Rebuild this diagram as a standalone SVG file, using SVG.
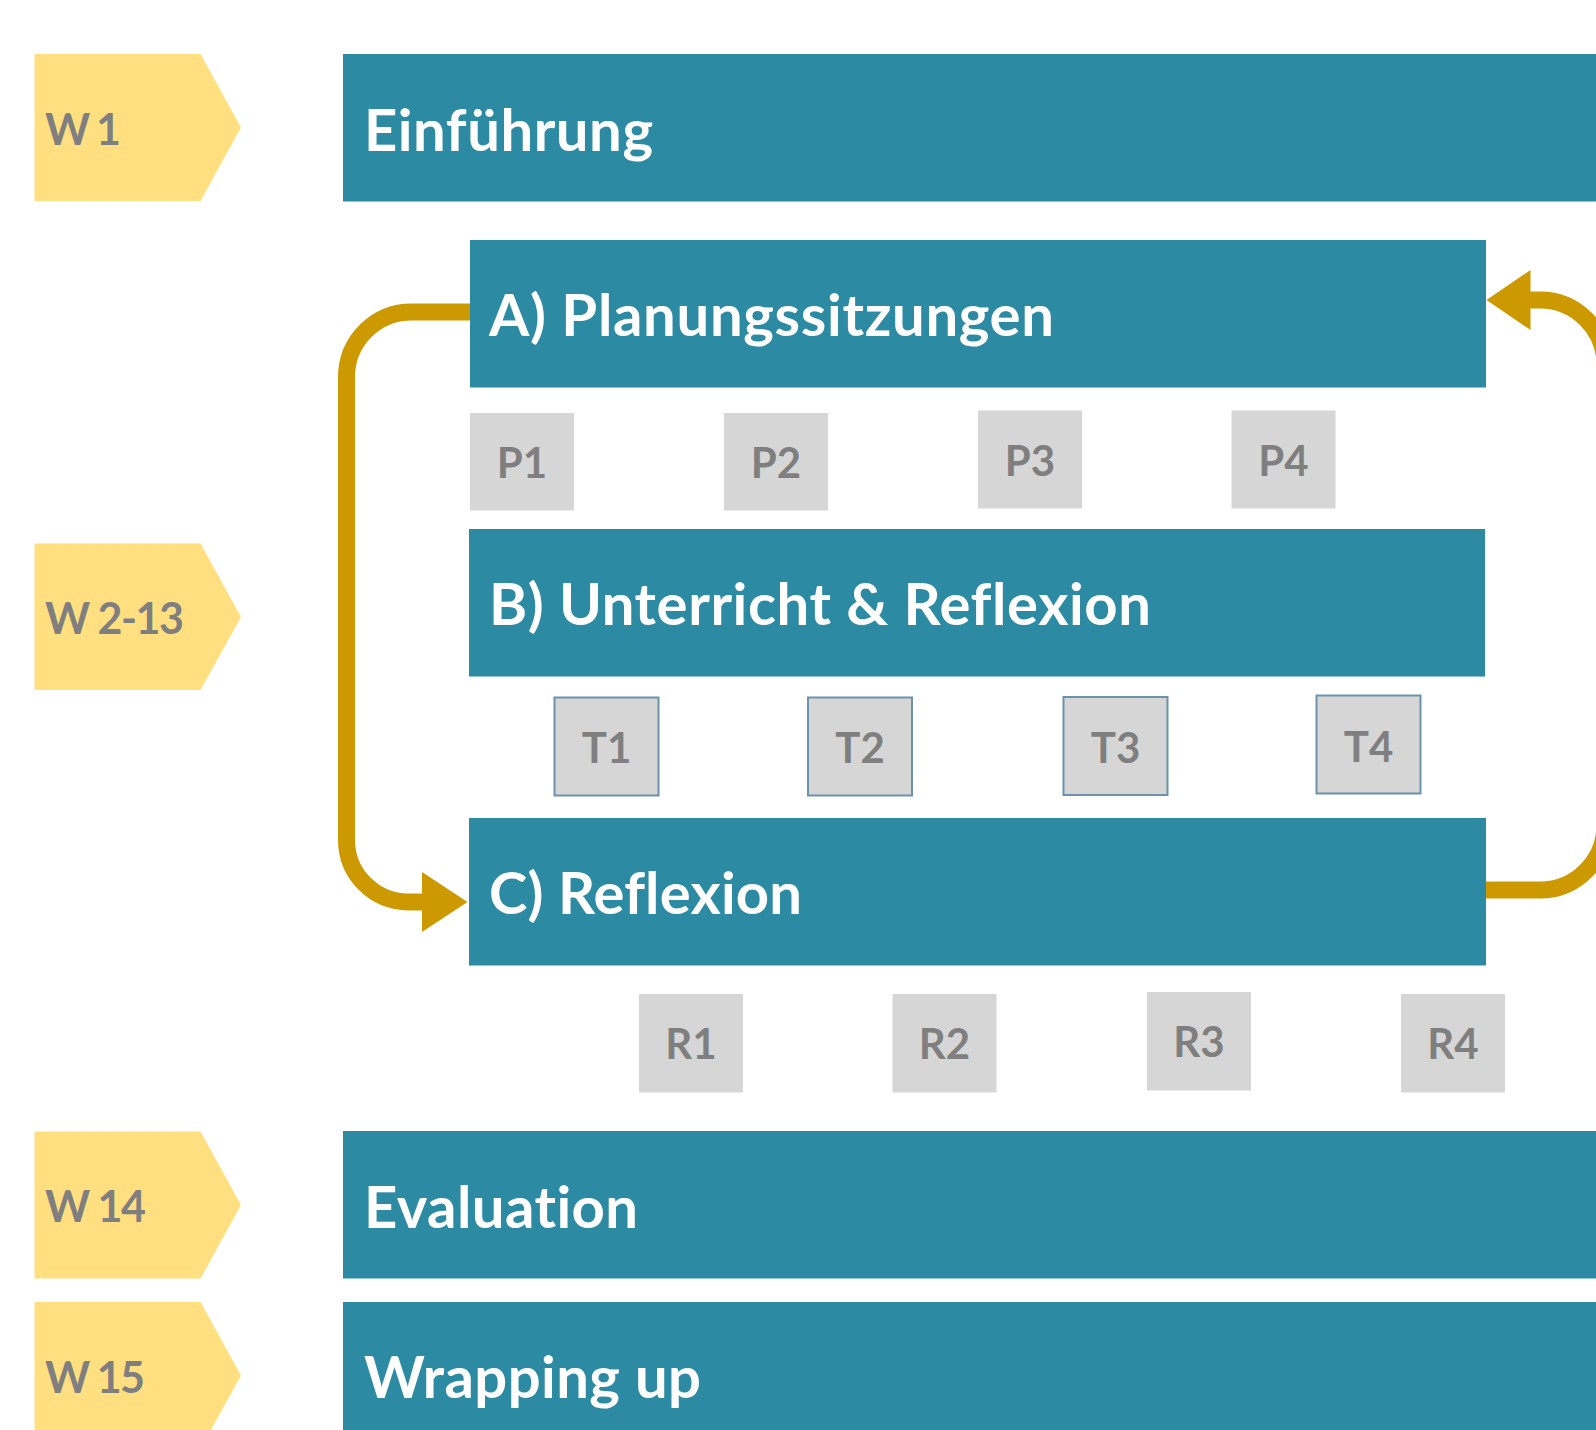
<svg xmlns="http://www.w3.org/2000/svg" width="1596" height="1430" viewBox="0 0 1596 1430">
<style>
text{font-variant-ligatures:none}
.bar{fill:#2D8AA3}
.wk{fill:#FFDF7F}
.box{fill:#D6D6D6}
.tbox{fill:#D6D6D6;stroke:#6A93AB;stroke-width:2}
.big{font-family:Lato,"Open Sans","Liberation Sans",sans-serif;font-weight:700;font-size:58px;fill:#FFFFFF}
.wl{font-family:Lato,"Open Sans","Liberation Sans",sans-serif;font-weight:700;font-size:43px;fill:#7F7F7F}
.sl{font-family:Lato,"Open Sans","Liberation Sans",sans-serif;font-weight:700;font-size:42px;fill:#7F7F7F;text-anchor:middle}
.con{fill:none;stroke:#CC9900;stroke-width:17}
.head{fill:#CC9900}
</style>
<rect width="1596" height="1430" fill="#FFFFFF"/>

<g id="week-1"><polygon class="wk" points="34.5,54 200.5,54 241,127.5 200.5,201 34.5,201"/><text class="wl" x="45" y="144.5" textLength="76">W 1</text></g>
<g id="week-2-13"><polygon class="wk" points="34.5,543.6 200.5,543.6 241,617 200.5,690 34.5,690"/><text class="wl" x="45" y="634" textLength="139">W 2-13</text></g>
<g id="week-14"><polygon class="wk" points="34.5,1131.5 200.5,1131.5 241,1205 200.5,1278.5 34.5,1278.5"/><text class="wl" x="45" y="1222" textLength="101">W 14</text></g>
<g id="week-15"><polygon class="wk" points="34.5,1302 200.5,1302 241,1375.5 200.5,1449 34.5,1449"/><text class="wl" x="45" y="1392.5" textLength="100">W 15</text></g>

<g id="einfuehrung"><rect class="bar" x="343" y="54" width="1253" height="147.5"/><text class="big" x="364" y="150.5" textLength="289">Einführung</text></g>
<g id="planungssitzungen"><rect class="bar" x="470" y="240" width="1016" height="147.5"/><text class="big" x="489" y="335.7" textLength="565">A) Planungssitzungen</text></g>
<g id="unterricht"><rect class="bar" x="469" y="529" width="1016" height="147.5"/><text class="big" x="489" y="625" textLength="662">B) Unterricht &amp; Reflexion</text></g>
<g id="reflexion"><rect class="bar" x="469" y="818" width="1017" height="147.5"/><text class="big" x="489" y="914" textLength="313">C) Reflexion</text></g>
<g id="evaluation"><rect class="bar" x="343" y="1131" width="1253" height="147.5"/><text class="big" x="364" y="1227.5" textLength="274">Evaluation</text></g>
<g id="wrapping-up"><rect class="bar" x="343" y="1302" width="1253" height="150"/><text class="big" x="364" y="1397.5" textLength="337">Wrapping up</text></g>

<g id="p1"><rect class="box" x="470" y="413" width="104" height="97.5"/><text class="sl" x="522" y="478.3">P1</text></g>
<g id="p2"><rect class="box" x="724" y="413" width="104" height="97.5"/><text class="sl" x="776" y="478.3">P2</text></g>
<g id="p3"><rect class="box" x="978" y="410.5" width="104" height="98"/><text class="sl" x="1030" y="476">P3</text></g>
<g id="p4"><rect class="box" x="1231.5" y="410.5" width="104" height="98"/><text class="sl" x="1283.5" y="476">P4</text></g>

<g id="t1"><rect class="tbox" x="554.5" y="697.5" width="104" height="98"/><text class="sl" x="606.5" y="763.3">T1</text></g>
<g id="t2"><rect class="tbox" x="808" y="697.5" width="104" height="98"/><text class="sl" x="860" y="763.3">T2</text></g>
<g id="t3"><rect class="tbox" x="1063.5" y="697" width="104" height="98"/><text class="sl" x="1115.5" y="763">T3</text></g>
<g id="t4"><rect class="tbox" x="1316.5" y="695.5" width="104" height="98"/><text class="sl" x="1368.5" y="761.5">T4</text></g>

<g id="r1"><rect class="box" x="639" y="994" width="104" height="98.5"/><text class="sl" x="691" y="1059.3">R1</text></g>
<g id="r2"><rect class="box" x="892.5" y="994" width="104" height="98.5"/><text class="sl" x="944.5" y="1059.3">R2</text></g>
<g id="r3"><rect class="box" x="1147" y="992" width="104" height="98.5"/><text class="sl" x="1199" y="1057.3">R3</text></g>
<g id="r4"><rect class="box" x="1401" y="994" width="104" height="98.5"/><text class="sl" x="1453" y="1059.3">R4</text></g>

<g id="connectors">
<path class="con" d="M 470 312 H 411.5 A 65 65 0 0 0 346.5 377 V 840 A 62 62 0 0 0 408.5 902 H 426"/>
<polygon class="head" points="422,872 467.5,902 422,932"/>
<path class="con" d="M 1486 890 H 1540 A 65 65 0 0 0 1605 825 V 365 A 65 65 0 0 0 1540 300 H 1526"/>
<polygon class="head" points="1530.5,270 1486.5,300 1530.5,330"/>
</g>
</svg>
